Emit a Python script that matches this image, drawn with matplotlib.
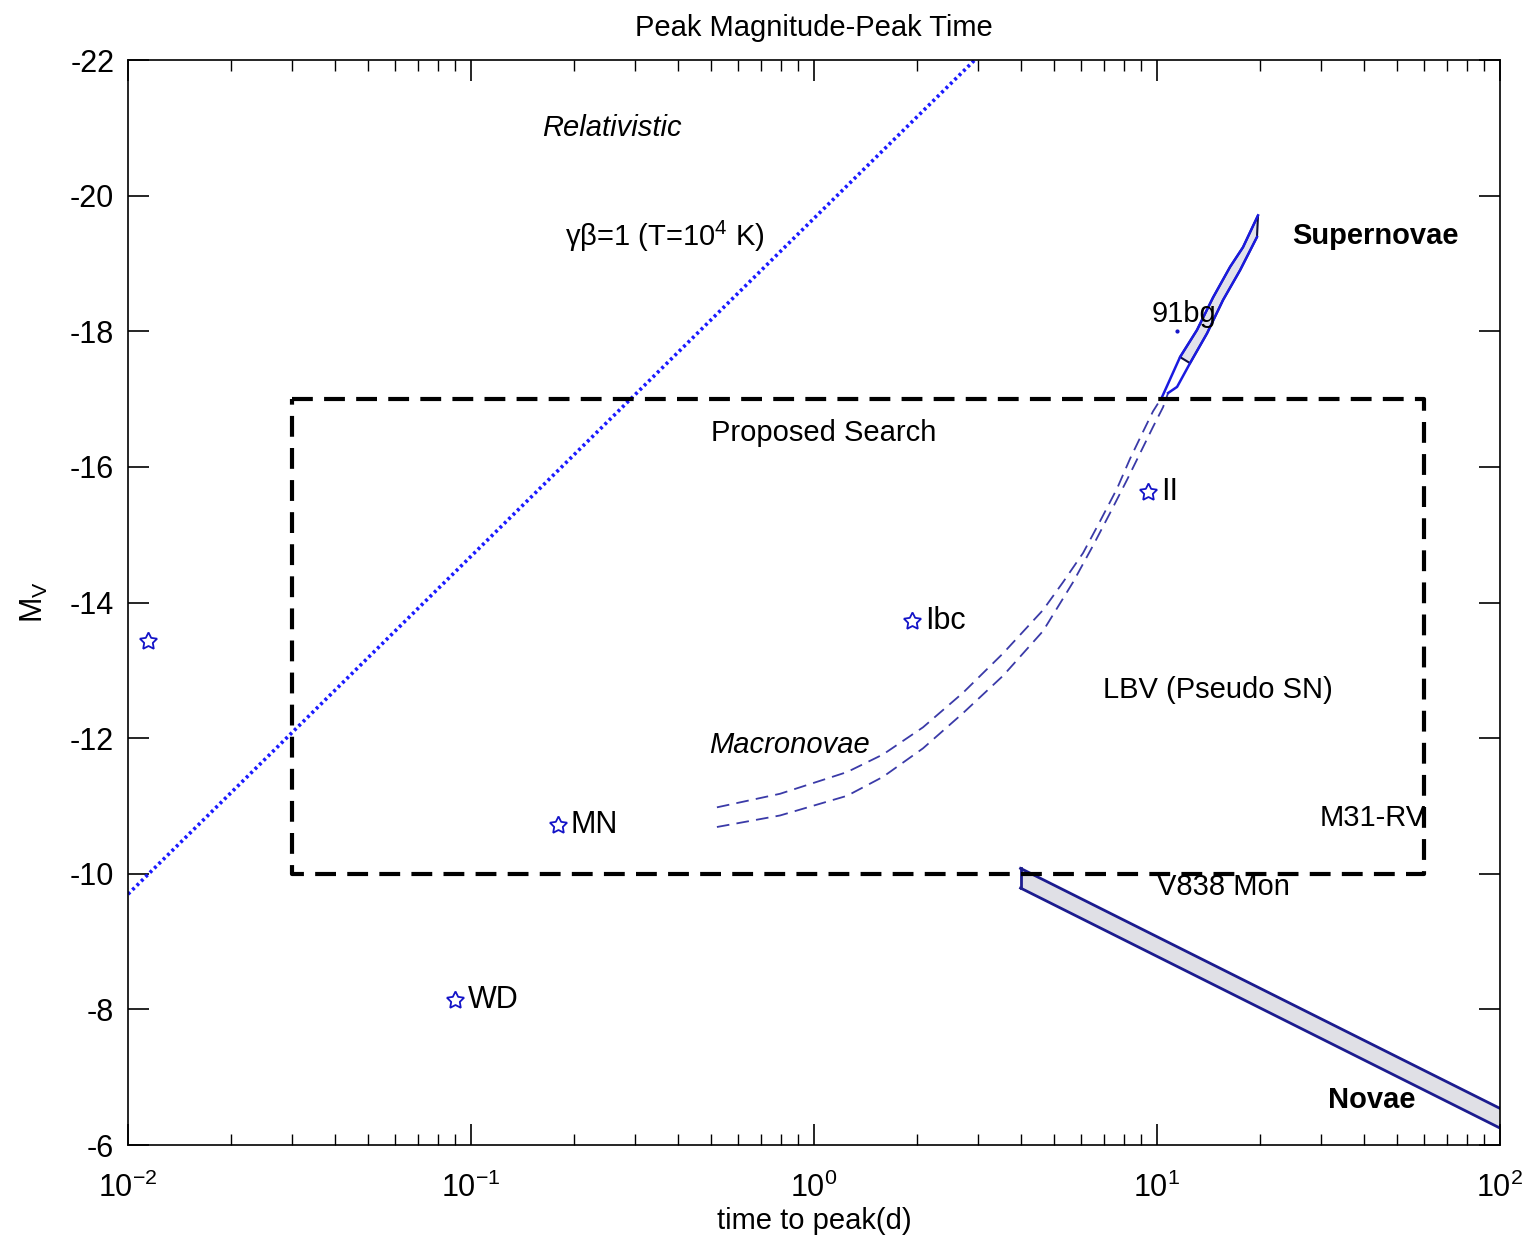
import numpy as np
import matplotlib
matplotlib.use('Agg')
import matplotlib.pyplot as plt

plt.rcParams['font.family'] = ['Liberation Sans', 'DejaVu Sans']
plt.rcParams['mathtext.fontset'] = 'custom'
plt.rcParams['mathtext.rm'] = 'Liberation Sans'
plt.rcParams['mathtext.it'] = 'Liberation Sans:italic'
plt.rcParams['axes.unicode_minus'] = False

# punktuelle Objekte (Zeit bis Maximum [d], M_V)
obj_names = ['', 'WD', 'MN', 'Ibc', 'II']
obj_t = [0.0114, 0.0897, 0.179, 1.93, 9.42]
obj_m = [-13.43, -8.14, -10.72, -13.73, -15.63]

bg91_t = 11.4
bg91_m = -18.0

# relativistische Grenze gamma*beta = 1
rel_t = [0.01, 2.94]
rel_m = [-9.7, -22.0]

# Makronovae (gestrichelt)
mn_up_t = [0.521, 0.796, 1.248, 1.589, 2.078, 2.719, 3.556, 4.652, 5.320, 6.085,
           6.822, 7.644, 8.341, 9.105, 9.734, 10.34]
mn_up_m = [-10.98, -11.18, -11.50, -11.76, -12.16, -12.67, -13.25, -13.89, -14.30, -14.73,
           -15.20, -15.68, -16.12, -16.52, -16.82, -17.03]
mn_lo_t = [0.521, 0.796, 1.248, 1.589, 2.078, 2.719, 3.556, 4.652, 5.690, 6.508,
           7.295, 8.176, 8.921, 9.734, 10.41, 10.77]
mn_lo_m = [-10.69, -10.86, -11.15, -11.43, -11.85, -12.37, -12.92, -13.58, -14.30, -14.84,
           -15.32, -15.81, -16.20, -16.59, -16.88, -17.09]

# Supernova-Band (durchgezogen)
sn_up_t = [10.34, 11.67, 13.08, 14.57, 16.33, 17.81, 19.70]
sn_up_m = [-17.03, -17.62, -18.02, -18.50, -18.95, -19.24, -19.71]
sn_lo_t = [10.77, 11.44, 12.48, 13.99, 15.57, 17.46, 19.56]
sn_lo_m = [-17.09, -17.18, -17.53, -17.97, -18.46, -18.90, -19.39]

# Novae-Band
nov_t = [4.0, 100.0]
nov_up_m = [-10.08, -6.54]
nov_lo_m = [-9.79, -6.25]

# vorgeschlagene Suche
box_t = [0.03, 60.0]
box_m = [-17.0, -10.0]

fig = plt.figure(figsize=(15.28, 12.43), dpi=100)
ax = fig.add_axes([0.0838, 0.0788, 0.8979, 0.8729])

fs = 21
navy = '#1c1c8f'
blue = '#1414c8'

ax.plot(rel_t, rel_m, color='#1a1aff', lw=2.6, linestyle=(0, (0.8, 0.9)))

ax.plot(mn_up_t, mn_up_m, color='#3a3aa8', lw=1.3, dashes=(7, 4))
ax.plot(mn_lo_t, mn_lo_m, color='#3a3aa8', lw=1.3, dashes=(7, 4))

# SN-Band
poly_t = sn_up_t[1:] + sn_lo_t[::-1][:-2]
poly_m = sn_up_m[1:] + sn_lo_m[::-1][:-2]
ax.fill(poly_t, poly_m, facecolor='#e2e2ea', edgecolor='#101040', lw=1.5)
ax.plot(sn_up_t, sn_up_m, color='#1a1ae0', lw=1.8)
ax.plot(sn_lo_t, sn_lo_m, color='#1a1ae0', lw=1.8)

# Novae
ax.fill_between(nov_t, nov_up_m, nov_lo_m, facecolor='#e0e0e6', edgecolor='none')
ax.plot(nov_t, nov_up_m, color=navy, lw=2)
ax.plot(nov_t, nov_lo_m, color=navy, lw=2)
ax.plot([nov_t[0], nov_t[0]], [nov_up_m[0], nov_lo_m[0]], color=navy, lw=2)

# Suchbox
ax.plot([box_t[0], box_t[1], box_t[1], box_t[0], box_t[0]],
        [box_m[0], box_m[0], box_m[1], box_m[1], box_m[0]],
        color='black', lw=3, linestyle=(0, (5, 2.7)))

ax.plot(obj_t, obj_m, linestyle='none', marker=(5, 1), ms=13,
        mfc='none', mec=blue, mew=1.3)
ax.plot([bg91_t], [bg91_m], '.', color=blue, ms=4)

for n, t, m in zip(obj_names, obj_t, obj_m):
    if n:
        ax.text(t * 1.09, m, n, fontsize=fs + 1, va='center', ha='left')

ax.text(0.258, -21.0, 'Relativistic', fontsize=fs, style='italic', ha='center', va='center')
ax.text(0.188, -19.4, 'γβ=1 (T=10$^4$ K)', fontsize=fs, ha='left', va='center')
ax.text(24.8, -19.4, 'Supernovae', fontsize=fs, weight='bold', ha='left', va='center')
ax.text(9.66, -18.25, '91bg', fontsize=fs, ha='left', va='center')
ax.text(0.501, -16.5, 'Proposed Search', fontsize=fs, ha='left', va='center')
ax.text(6.97, -12.71, 'LBV (Pseudo SN)', fontsize=fs, ha='left', va='center')
ax.text(0.494, -11.9, 'Macronovae', fontsize=fs, style='italic', ha='left', va='center')
ax.text(29.8, -10.82, 'M31-RV', fontsize=fs, ha='left', va='center')
ax.text(10.0, -9.8, 'V838 Mon', fontsize=fs, ha='left', va='center')
ax.text(31.6, -6.66, 'Novae', fontsize=fs, weight='bold', ha='left', va='center')

ax.set_xscale('log')
ax.set_xlim(1e-2, 1e2)
ax.set_ylim(-6, -22)
ax.set_yticks(np.arange(-22, -5, 2))
ax.tick_params(which='both', direction='in', top=True, right=True, labelsize=fs + 1)
ax.tick_params(axis='y', pad=10)
ax.tick_params(axis='x', pad=20)
ax.tick_params(which='major', length=15, width=1.2)
ax.tick_params(which='minor', length=8, width=1)
for s in ax.spines.values():
    s.set_linewidth(1.2)

ax.set_title('Peak Magnitude-Peak Time', fontsize=fs, pad=17)
ax.set_xlabel('time to peak(d)', fontsize=fs, labelpad=2)
ax.set_ylabel(r'M$_{\mathrm{V}}$', fontsize=fs + 1, labelpad=14)

fig.savefig('out.png', dpi=100)
